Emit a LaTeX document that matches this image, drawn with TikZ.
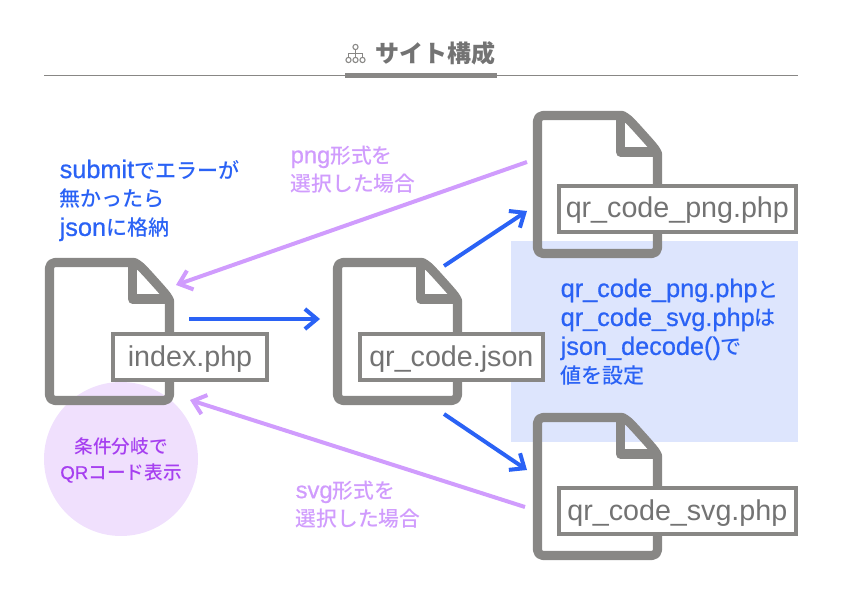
\documentclass[tikz,border=0pt]{standalone}
\usepackage{fontspec}
\setmainfont{Noto Sans CJK JP}
\newfontfamily\latinfont{Liberation Sans}
\newfontfamily\latinblue[FakeBold=0.7,Scale=1.2]{Liberation Sans}
\newfontfamily\latinpurple[FakeBold=0.7,Scale=1.14]{Liberation Sans}
\newfontfamily\latinnote[FakeBold=0.7]{Liberation Sans}
\newfontfamily\mediumfont{Noto Sans CJK JP Medium}
\newcommand{\bluelatin}[1]{{\latinblue #1}}
\newcommand{\purplelatin}[1]{{\latinpurple #1}}
\definecolor{filegray}{RGB}{136,135,133}
\definecolor{textgray}{RGB}{115,115,115}
\definecolor{arrowblue}{RGB}{42,98,245}
\definecolor{arrowpurple}{RGB}{208,156,253}
\definecolor{notepurple}{RGB}{166,63,240}
\definecolor{noteblue}{RGB}{221,229,253}
\definecolor{notelilac}{RGB}{240,224,253}
\usetikzlibrary{arrows.meta}
\tikzset{
  blueline/.style={arrowblue,line width=3pt,-{Straight Barb[length=9pt,width=15pt,line width=3pt]}},
  purpleline/.style={arrowpurple,line width=3pt,-{Straight Barb[length=9pt,width=15pt,line width=3pt]}},
  filename/.style={draw=filegray,line width=3pt,fill=white,text=textgray,font=\fontsize{21.5}{21.5}\latinfont,inner sep=0pt,anchor=north west,minimum height=34.5pt,text height=17pt,text depth=3.5pt},
  bluetext/.style={text=arrowblue,font=\fontsize{15.8}{21.7}\mediumfont,align=left,anchor=north west},
  purpletext/.style={text=arrowpurple,font=\fontsize{15.6}{21}\mediumfont,align=left,anchor=north west},
  fileicon/.pic={
    \draw[filegray,line width=6.8pt,line join=round,rounded corners=4pt]
      (40,4.5) -- (4.5,4.5) -- (4.5,142.5) -- (124.5,142.5) -- (124.5,48)
      .. controls (124.5,42) and (122,38) .. (118,33) -- (100,13)
      .. controls (95,8) and (90,4.5) .. (84,4.5) -- cycle;
    \draw[filegray,line width=6.8pt,line join=round] (87.5,4.5) -- (87.5,41) -- (122,41);
  }
}
\begin{document}
\begin{tikzpicture}[x=0.75pt,y=-0.75pt]
  \useasboundingbox (0,0) rectangle (842,595);
  % fondos
  \fill[noteblue] (511,241) rectangle (798,442);
  \fill[notelilac] (121,459) circle (77);
  % titulo
  \draw[filegray,line width=0.75pt] (44,75.5) -- (798,75.5);
  \fill[filegray] (345,73.5) rectangle (497,78);
  \node[text=textgray,font=\fontsize{18}{18}\selectfont\bfseries] (title) at (435,53) {サイト構成};
  \begin{scope}[filegray,line width=0.8pt]
    \draw (355.5,47) circle (2.6);
    \draw (348.5,60) circle (2.6);
    \draw (355.5,60) circle (2.6);
    \draw (362.5,60) circle (2.6);
    \draw (355.5,49.6) -- (355.5,57.4);
    \draw (348.5,57.4) -- (348.5,53.5) -- (362.5,53.5) -- (362.5,57.4);
  \end{scope}
  % archivos
  \pic at (45,258) {fileicon};
  \pic at (333,258) {fileicon};
  \pic at (533,111) {fileicon};
  \pic at (533,413) {fileicon};
  \node[filename,minimum width=115.5pt] (index) at (111,332) {index.php};
  \node[filename,minimum width=137pt] (json) at (358,332) {qr\_code.json};
  \node[filename,minimum width=177.5pt] (png) at (557,184) {qr\_code\_png.php};
  \node[filename,minimum width=177.5pt] (svg) at (557,486) {qr\_code\_svg.php};
  % puntos de las flechas
  \coordinate (a1) at (527,162);  \coordinate (a2) at (176,285);
  \coordinate (b1) at (525,507);  \coordinate (b2) at (190,400);
  \coordinate (c1) at (189,319);  \coordinate (c2) at (320,319);
  \coordinate (d1) at (444,266);  \coordinate (d2) at (527,211);
  \coordinate (e1) at (444,414);  \coordinate (e2) at (527,470);
  \draw[purpleline] (a1) -- (a2);
  \draw[purpleline] (b1) -- (b2);
  \draw[blueline] (c1) -- (c2);
  \draw[blueline] (d1) -- (d2);
  \draw[blueline] (e1) -- (e2);
  % textos
  \node[bluetext] (submit) at (55,155) {\bluelatin{submit}でエラーが\\無かったら\\\bluelatin{json}に格納};
  \node[purpletext] (pngcase) at (286,141) {\purplelatin{png}形式を\\選択した場合};
  \node[purpletext] (svgcase) at (291,476) {\purplelatin{svg}形式を\\選択した場合};
  \node[bluetext] (decode) at (556,274) {\bluelatin{qr\_code\_png.php}と\\\bluelatin{qr\_code\_svg.php}は\\\bluelatin{json\_decode()}で\\値を設定};
  \node[text=notepurple,font=\fontsize{14}{19.5}\mediumfont,align=center] (branch) at (121,460) {条件分岐で\\{\latinnote QR}コード表示};
\end{tikzpicture}
\end{document}
